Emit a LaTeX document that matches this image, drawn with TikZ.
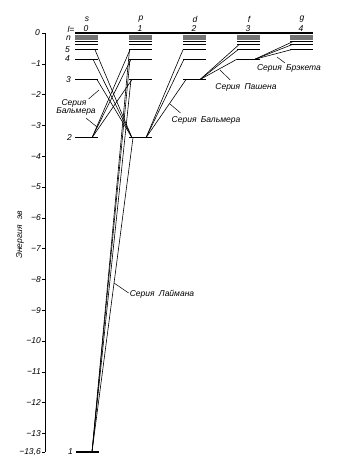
\documentclass[tikz,border=0pt]{standalone}
\usepackage{fontspec}
\setmainfont{Liberation Sans}
\tikzset{
  level/.style={line width=1.1pt},
  sublevel/.style={line width=0.7pt},
  bandlevel/.style={line width=0.35pt, black!55},
  trans/.style={line width=0.6pt},
  pointer/.style={line width=0.5pt},
  lbl/.style={font=\itshape\fontsize{8.5}{8.5}\selectfont, inner sep=0pt},
}
\begin{document}
\begin{tikzpicture}[x=1pt,y=-1pt]
\useasboundingbox (0,0) rectangle (361,464);

% energy axis
\draw[line width=0.8pt] (45,33) -- (45,452);
\foreach \e in {0,...,13} {
  \draw[line width=0.6pt] (42,33+30.8*\e) -- (45,33+30.8*\e);
}
\draw[line width=0.6pt] (42,452) -- (45,452);
\node[lbl, anchor=east] (e0) at (40,33) {0};
\foreach \e in {1,...,13} {
  \node[lbl, anchor=east] (e\e) at (41,33+30.8*\e) {−\e};
}
\node[lbl, anchor=east] (e136) at (41,452) {−13,6};
\node[lbl, rotate=90] (unit) at (20,215) {эв};
\node[lbl, rotate=90] (energy) at (20,242) {Энергия};

% columns of levels
\draw[line width=1.2pt] (75,33) -- (313,33);
\node[lbl] (lname) at (71,29) {l=};
\foreach \col/\x/\nmin/\num in {s/75/2/0, p/129/2/1, d/183/3/2, f/237/4/3, g/290/5/4} {
  \node[lbl] (h\col) at (\x+12,19) {\col};
  \node[lbl] (l\col) at (\x+11,29) {\num};
  \foreach \n in {\nmin,...,5} {
    \pgfmathsetmacro\yy{33+418.9/(\n*\n)}
    \coordinate (\col\n) at (\x,\yy);
    \draw[level] (\col\n) -- ++(23,0);
  }
  \foreach \n in {6,7} {
    \pgfmathsetmacro\yy{33+418.9/(\n*\n)}
    \coordinate (\col\n) at (\x,\yy);
    \draw[sublevel] (\col\n) -- ++(23,0);
  }
  \fill[black!30] (\x,35.5) rectangle ++(23,4.5);
  \foreach \n in {8,...,14} {
    \pgfmathsetmacro\yy{33+418.9/(\n*\n)}
    \draw[bandlevel] (\x,\yy) -- ++(23,0);
  }
}
\coordinate (s1) at (76,452);
\draw[level] (s1) -- ++(23,0);

% level numbers
\node[lbl, anchor=east] (nn) at (71,38) {n};
\node[lbl, anchor=east] (n5) at (70,50) {5};
\node[lbl, anchor=east] (n4) at (70,59) {4};
\node[lbl, anchor=east] (n3) at (71,80) {3};
\node[lbl, anchor=east] (n2) at (72,138) {2};
\node[lbl, anchor=east] (n1) at (73,452) {1};

% Lyman
\coordinate (lyman) at ([xshift=16]s1);
\foreach \n/\dx in {2/4, 3/2, 4/1, 5/0.5}
  \draw[trans] (lyman) -- ([xshift=\dx]p\n);
% Balmer
\coordinate (balmS) at ([xshift=17]s2);
\foreach \n/\dx in {3/3, 4/2, 5/1}
  \draw[trans] (balmS) -- ([xshift=\dx]p\n);
\coordinate (balmP) at ([xshift=3]p2);
\foreach \n/\dx in {3/22, 4/18, 5/20}
  \draw[trans] ([xshift=\dx]s\n) -- (balmP);
\coordinate (balmD) at ([xshift=17]p2);
\foreach \n/\dx in {3/3, 4/1, 5/0}
  \draw[trans] (balmD) -- ([xshift=\dx]d\n);
% Paschen
\coordinate (pasch) at ([xshift=17]d3);
\foreach \n/\dx in {4/0, 5/1, 6/2}
  \draw[trans] (pasch) -- ([xshift=\dx]f\n);
% Brackett
\coordinate (brack) at ([xshift=18]f4);
\foreach \n/\dx in {5/1, 6/2, 7/3}
  \draw[trans] (brack) -- ([xshift=\dx]g\n);

% series labels
\node[lbl] (serL) at (74,103) {Серия};
\node[lbl] (balL) at (76,111) {Бальмера};
\coordinate (tipL1) at (99,90);
\coordinate (tipL2) at (97,127);
\draw[pointer] ([shift={(2,0)}]serL.north east) -- (tipL1);
\draw[pointer] ([shift={(10,3)}]balL.south) -- (tipL2);

\node[lbl] (balR) at (206,120) {Серия\hspace{0.5em}Бальмера};
\coordinate (tipR) at (170,104);
\draw[pointer] ([shift={(9,-3)}]balR.north west) -- (tipR);

\node[lbl] (paschL) at (246,87) {Серия\hspace{0.5em}Пашена};
\coordinate (tipP) at (220,70);
\draw[pointer] ([shift={(15,-3)}]paschL.north west) -- (tipP);

\node[lbl] (brackL) at (289,68) {Серия\hspace{0.5em}Брэкета};
\coordinate (tipB) at (277,57);
\draw[pointer] ([shift={(-4,-1)}]brackL.north) -- (tipB);

\node[lbl] (lymanL) at (162,294) {Серия\hspace{0.5em}Лаймана};
\coordinate (tipLy) at (114,283);
\draw[pointer] ([shift={(-1,-1)}]lymanL.west) -- (tipLy);
\end{tikzpicture}
\end{document}
